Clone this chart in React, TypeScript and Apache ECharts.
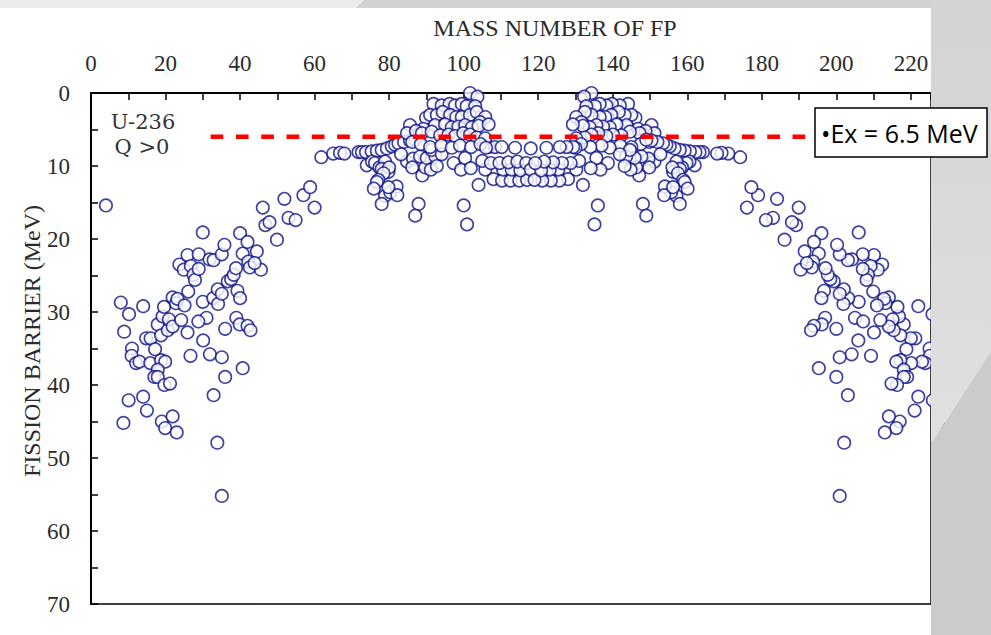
import React, { useEffect, useRef } from "react";
import * as echarts from "echarts";

// Axis ticks (labels shown every 20 / every 10)
const massLabels = [0, 20, 40, 60, 80, 100, 120, 140, 160, 180, 200, 220];
const barrierLabels = [0, 10, 20, 30, 40, 50, 60, 70];

// [mass number, fission barrier MeV] — light-fragment side, outer wing
const wingLight: number[][] = [
  [4.0, 15.4], [8.0, 28.7], [10.2, 30.3], [8.9, 32.7], [11.0, 35.0], [10.9, 36.0], [12.1, 37.0], [13.0, 36.8],
  [14.0, 29.2], [14.8, 33.6], [16.0, 33.6], [17.2, 35.1], [15.9, 37.0], [17.9, 31.7], [18.8, 33.2], [19.2, 30.6],
  [19.6, 29.3], [20.6, 32.5], [20.9, 31.0], [21.9, 32.0], [18.8, 36.6], [19.9, 36.8], [17.9, 37.9], [17.0, 38.9],
  [17.9, 38.9], [19.7, 40.0], [21.2, 39.8], [10.1, 42.1], [14.0, 41.6], [15.0, 43.5], [8.7, 45.2], [19.0, 45.0],
  [21.9, 44.3], [19.9, 45.9], [23.0, 46.5], [21.9, 28.0], [22.8, 28.8], [23.2, 28.2], [25.1, 29.1], [24.2, 31.1],
  [25.9, 32.8], [26.1, 27.2], [23.7, 23.5], [24.9, 24.2], [25.9, 22.2], [26.8, 23.7], [27.5, 24.9], [27.9, 25.6],
  [28.9, 22.1], [28.9, 24.1], [30.0, 19.1], [30.0, 28.6], [31.0, 30.8], [28.8, 31.3], [30.1, 33.9], [26.7, 36.0],
  [31.9, 35.8], [31.8, 22.8], [32.9, 22.9], [32.8, 28.1], [34.0, 26.9], [34.1, 28.9], [35.1, 27.5], [35.1, 22.1],
  [35.8, 20.8], [35.1, 36.2], [36.0, 32.3], [36.0, 38.9], [32.9, 41.4], [33.9, 47.9], [35.1, 55.2], [36.7, 25.8],
  [37.6, 25.5], [38.3, 24.9], [38.9, 24.0], [39.3, 27.1], [40.0, 28.1], [39.0, 30.8], [39.9, 31.7], [40.0, 19.2],
  [40.7, 22.0], [42.0, 20.4], [42.0, 31.9], [42.8, 32.5], [42.2, 23.1], [42.6, 23.9], [40.7, 37.7], [44.5, 21.7],
  [45.6, 24.2], [43.9, 23.3], [46.1, 15.7], [46.8, 18.1], [47.9, 17.7], [49.9, 20.1], [51.9, 14.5], [53.0, 17.1],
  [54.9, 17.4], [57.0, 14.0], [58.8, 12.9], [60.0, 15.7], [61.8, 8.8], [65.0, 8.3], [66.8, 8.2], [68.0, 8.3],
];

// light side, shoulder and valley (A 70 - 118)
const shoulderLight: number[][] = [
  [71.8, 8.1], [72.7, 8.1], [73.8, 8.1], [75.3, 8.0], [76.7, 7.9], [78.0, 7.8], [79.4, 7.6], [80.7, 7.3],
  [81.6, 7.1], [82.5, 6.9], [84.0, 6.7], [85.6, 6.5], [87.0, 6.4],
  [74.0, 9.9], [75.4, 9.4], [76.2, 9.6], [77.4, 10.2], [78.9, 9.4], [78.0, 10.4], [79.8, 10.8], [80.0, 10.2],
  [78.5, 11.0], [77.1, 11.9], [76.7, 12.2], [75.9, 13.1], [78.9, 14.1], [78.0, 15.2], [80.3, 13.6], [82.0, 12.8],
  [82.2, 14.0], [79.8, 12.9],
  [84.8, 9.4], [86.4, 9.0], [86.2, 10.2], [88.3, 8.7], [88.9, 11.3], [89.7, 10.2], [90.1, 8.9], [91.2, 10.5],
  [92.4, 8.7], [92.8, 10.0], [91.4, 7.8], [83.2, 8.4], [94.1, 8.4],
  [87.9, 15.2], [87.0, 16.8], [100.0, 15.4], [100.9, 18.0],
  [97.3, 9.6], [99.3, 10.5], [100.4, 8.9], [101.9, 10.3], [105.8, 10.5], [104.0, 12.6],
  [108.0, 11.8], [110.3, 12.0], [112.6, 12.0], [114.9, 12.0], [117.0, 11.9],
  [110.6, 10.5], [112.9, 10.5], [115.2, 10.6],
  [105.0, 9.3], [107.3, 9.6], [109.6, 9.6], [112.0, 9.5], [114.4, 9.4], [116.8, 9.6],
  [106.6, 7.4], [108.4, 7.4], [110.2, 7.4], [113.8, 7.5],
];

// light-side peak region
const peakLight: number[][] = [
  [101.7, 0.0], [103.7, 0.5],
  [91.9, 1.5], [94.1, 1.7], [96.2, 1.5], [97.7, 1.7], [99.5, 1.5], [100.8, 1.8], [103.1, 1.8],
  [89.9, 3.4], [91.0, 3.0], [92.8, 3.0], [94.4, 2.6], [96.4, 3.0], [98.0, 3.3], [99.5, 3.3], [101.7, 3.0],
  [103.5, 2.6], [105.8, 3.3], [104.4, 4.0],
  [85.6, 4.4], [89.2, 4.9], [92.3, 4.4], [95.0, 4.3], [96.8, 4.7], [98.6, 4.6], [100.4, 4.4], [102.2, 4.7],
  [104.0, 4.5], [106.7, 4.3],
  [84.8, 5.5], [87.2, 5.2], [88.8, 5.5], [91.4, 5.3], [93.7, 5.8], [95.9, 5.7], [97.7, 5.9], [99.9, 5.5],
  [101.7, 5.7], [103.5, 6.1], [105.8, 6.2],
  [86.2, 6.7], [88.5, 7.0], [91.0, 7.4], [94.0, 7.2], [96.8, 7.5], [99.0, 7.2], [102.0, 7.4], [104.5, 7.0], [106.0, 7.5],
];

// symmetric fragments (A = 118)
const symmetric: number[][] = [[118.0, 7.6], [118.0, 10.5]];

// heavy-fragment side
const peakHeavy: number[][] = [
  [134.3, 0.0], [132.3, 0.5],
  [144.1, 1.5], [141.9, 1.7], [139.8, 1.5], [138.3, 1.7], [136.5, 1.5], [135.2, 1.8], [132.9, 1.8],
  [146.1, 3.4], [145.0, 3.0], [143.2, 3.0], [141.6, 2.6], [139.6, 3.0], [138.0, 3.3], [136.5, 3.3], [134.3, 3.0],
  [132.5, 2.6], [130.2, 3.3], [131.6, 4.0],
  [150.4, 4.4], [146.8, 4.9], [143.7, 4.4], [141.0, 4.3], [139.2, 4.7], [137.4, 4.6], [135.6, 4.4], [133.8, 4.7],
  [132.0, 4.5], [129.3, 4.3],
  [151.2, 5.5], [148.8, 5.2], [147.2, 5.5], [144.6, 5.3], [142.3, 5.8], [140.1, 5.7], [138.3, 5.9], [136.1, 5.5],
  [134.3, 5.7], [132.5, 6.1], [130.2, 6.2],
  [149.8, 6.7], [147.5, 7.0], [145.0, 7.4], [142.0, 7.2], [139.2, 7.5], [137.0, 7.2], [134.0, 7.4], [131.5, 7.0], [130.0, 7.5],
];

const shoulderHeavy: number[][] = [
  [164.2, 8.1], [163.3, 8.1], [162.2, 8.1], [160.7, 8.0], [159.3, 7.9], [158.0, 7.8], [156.6, 7.6], [155.3, 7.3],
  [154.4, 7.1], [153.5, 6.9], [152.0, 6.7], [150.4, 6.5], [149.0, 6.4],
  [162.0, 9.9], [160.6, 9.4], [159.8, 9.6], [158.6, 10.2], [157.1, 9.4], [158.0, 10.4], [156.2, 10.8], [156.0, 10.2],
  [157.5, 11.0], [158.9, 11.9], [159.3, 12.2], [160.1, 13.1], [157.1, 14.1], [158.0, 15.2], [155.7, 13.6], [154.0, 12.8],
  [153.8, 14.0], [156.2, 12.9],
  [151.2, 9.4], [149.6, 9.0], [149.8, 10.2], [147.7, 8.7], [147.1, 11.3], [146.3, 10.2], [145.9, 8.9], [144.8, 10.5],
  [143.6, 8.7], [143.2, 10.0], [144.6, 7.8], [152.8, 8.4], [141.9, 8.4],
  [148.1, 15.2], [149.0, 16.8], [136.0, 15.4], [135.1, 18.0],
  [138.7, 9.6], [136.7, 10.5], [135.6, 8.9], [134.1, 10.3], [130.2, 10.5], [132.0, 12.6],
  [128.0, 11.8], [125.7, 12.0], [123.4, 12.0], [121.1, 12.0], [119.0, 11.9],
  [125.4, 10.5], [123.1, 10.5], [120.8, 10.6],
  [131.0, 9.3], [128.7, 9.6], [126.4, 9.6], [124.0, 9.5], [121.6, 9.4], [119.2, 9.6],
  [129.4, 7.4], [127.6, 7.4], [125.8, 7.4], [122.2, 7.5],
];

const wingHeavy: number[][] = [
  [232.0, 15.4], [228.0, 28.7], [225.8, 30.3], [227.1, 32.7], [225.0, 35.0], [225.1, 36.0], [223.9, 37.0], [223.0, 36.8],
  [222.0, 29.2], [221.2, 33.6], [220.0, 33.6], [218.8, 35.1], [220.1, 37.0], [218.1, 31.7], [217.2, 33.2], [216.8, 30.6],
  [216.4, 29.3], [215.4, 32.5], [215.1, 31.0], [214.1, 32.0], [217.2, 36.6], [216.1, 36.8], [218.1, 37.9], [219.0, 38.9],
  [218.1, 38.9], [216.3, 40.0], [214.8, 39.8], [225.9, 42.1], [222.0, 41.6], [221.0, 43.5], [227.3, 45.2], [217.0, 45.0],
  [214.1, 44.3], [216.1, 45.9], [213.0, 46.5], [214.1, 28.0], [213.2, 28.8], [212.8, 28.2], [210.9, 29.1], [211.8, 31.1],
  [210.1, 32.8], [209.9, 27.2], [212.3, 23.5], [211.1, 24.2], [210.1, 22.2], [209.2, 23.7], [208.5, 24.9], [208.1, 25.6],
  [207.1, 22.1], [207.1, 24.1], [206.0, 19.1], [206.0, 28.6], [205.0, 30.8], [207.2, 31.3], [205.9, 33.9], [209.3, 36.0],
  [204.1, 35.8], [204.2, 22.8], [203.1, 22.9], [203.2, 28.1], [202.0, 26.9], [201.9, 28.9], [200.9, 27.5], [200.9, 22.1],
  [200.2, 20.8], [200.9, 36.2], [200.0, 32.3], [200.0, 38.9], [203.1, 41.4], [202.1, 47.9], [200.9, 55.2], [199.3, 25.8],
  [198.4, 25.5], [197.7, 24.9], [197.1, 24.0], [196.7, 27.1], [196.0, 28.1], [197.0, 30.8], [196.1, 31.7], [196.0, 19.2],
  [195.3, 22.0], [194.0, 20.4], [194.0, 31.9], [193.2, 32.5], [193.8, 23.1], [193.4, 23.9], [195.3, 37.7], [191.5, 21.7],
  [190.4, 24.2], [192.1, 23.3], [189.9, 15.7], [189.2, 18.1], [188.1, 17.7], [186.1, 20.1], [184.1, 14.5], [183.0, 17.1],
  [181.1, 17.4], [179.0, 14.0], [177.2, 12.9], [176.0, 15.7], [174.2, 8.8], [171.0, 8.3], [169.2, 8.2], [168.0, 8.3],
];

// Excitation energy reference line
const exLevel = 6.0;
const exFrom = 32.1;
const exTo = 193.0;

export default function App() {
  const ref = useRef<HTMLDivElement>(null);

  useEffect(() => {
    if (!ref.current) return;
    const chart = echarts.init(ref.current, undefined, { renderer: "svg" });
    const points = [
      ...wingLight,
      ...shoulderLight,
      ...peakLight,
      ...symmetric,
      ...peakHeavy,
      ...shoulderHeavy,
      ...wingHeavy,
    ];
    const serif = '"Liberation Serif", "Times New Roman", serif';
    const labelColor = "#2b2b2b";

    chart.setOption({
      animation: false,
      backgroundColor: "#ffffff",
      grid: { left: 91, top: 93, right: 60, bottom: 31, containLabel: false },
      xAxis: [
        {
          type: "value",
          position: "top",
          min: 0,
          max: 225.4,
          interval: 10,
          axisLine: { show: true, onZero: false, lineStyle: { color: "#000", width: 2 } },
          axisTick: { show: true, inside: true, length: 7, lineStyle: { color: "#000", width: 1.5 } },
          axisLabel: {
            show: true,
            margin: 18,
            fontFamily: serif,
            fontSize: 23,
            color: labelColor,
            formatter: (v: number) => (massLabels.includes(Math.round(v * 10) / 10) ? String(v) : ""),
          },
          splitLine: { show: false },
        },
        {
          type: "value",
          position: "bottom",
          min: 0,
          max: 225.4,
          axisLine: { show: true, onZero: false, lineStyle: { color: "#000", width: 1.5 } },
          axisTick: { show: false },
          axisLabel: { show: false },
          splitLine: { show: false },
        },
      ],
      yAxis: [
        {
          type: "value",
          position: "left",
          inverse: true,
          min: 0,
          max: 70,
          interval: 5,
          axisLine: { show: true, onZero: false, lineStyle: { color: "#000", width: 2 } },
          axisTick: { show: true, inside: true, length: 7, lineStyle: { color: "#000", width: 1.5 } },
          axisLabel: {
            show: true,
            margin: 21,
            fontFamily: serif,
            fontSize: 23,
            color: labelColor,
            formatter: (v: number) => (barrierLabels.includes(v) ? String(v) : ""),
          },
          splitLine: { show: false },
        },
        {
          type: "value",
          position: "right",
          inverse: true,
          min: 0,
          max: 70,
          axisLine: { show: true, onZero: false, lineStyle: { color: "#000", width: 1.5 } },
          axisTick: { show: false },
          axisLabel: { show: false },
          splitLine: { show: false },
        },
      ],
      series: [
        {
          type: "scatter",
          xAxisIndex: 0,
          yAxisIndex: 0,
          data: points,
          symbol: "circle",
          symbolSize: 12.5,
          clip: false,
          z: 3,
          itemStyle: { color: "#ffffff", borderColor: "#0c1287", borderWidth: 1.6 },
          emphasis: { disabled: true },
        },
        {
          type: "line",
          xAxisIndex: 0,
          yAxisIndex: 0,
          data: [
            [exFrom, exLevel],
            [exTo, exLevel],
          ],
          symbol: "none",
          z: 4,
          lineStyle: { color: "#ff0000", width: 4.5, type: [12.7, 12.6] },
          emphasis: { disabled: true },
        },
      ],
      graphic: [
        // slide background decorations
        { type: "rect", z: 100, silent: true, shape: { x: 0, y: 0, width: 991, height: 8 }, style: { fill: "#d2d2d2" } },
        {
          type: "polygon",
          z: 100,
          silent: true,
          shape: { points: [[0, 0], [364, 0], [356, 8], [0, 8]] },
          style: { fill: "#ebebeb" },
        },
        {
          type: "polygon",
          z: 100,
          silent: true,
          shape: { points: [[931, 0], [991, 0], [991, 351], [931, 444]] },
          style: {
            fill: new echarts.graphic.LinearGradient(0, 0, 0, 1, [
              { offset: 0, color: "#d3d3d3" },
              { offset: 1, color: "#e0e0e0" },
            ]),
          },
        },
        {
          type: "polygon",
          z: 100,
          silent: true,
          shape: { points: [[931, 444], [991, 351], [991, 635], [931, 635]] },
          style: { fill: "#cbcbcb" },
        },
        // axis titles
        {
          type: "text",
          z: 50,
          x: 555,
          y: 28,
          style: {
            text: "MASS NUMBER OF FP",
            align: "center",
            verticalAlign: "middle",
            fontFamily: serif,
            fontSize: 24,
            fill: labelColor,
          },
        },
        {
          type: "text",
          z: 50,
          x: 32,
          y: 341,
          rotation: Math.PI / 2,
          style: {
            text: "FISSION BARRIER (MeV)",
            align: "center",
            verticalAlign: "middle",
            fontFamily: serif,
            fontSize: 24,
            fill: labelColor,
          },
        },
        // annotations
        {
          type: "text",
          z: 50,
          x: 143,
          y: 122,
          style: {
            text: "U-236",
            align: "center",
            verticalAlign: "middle",
            fontFamily: '"DejaVu Serif", serif',
            fontSize: 21,
            fill: "#333",
          },
        },
        {
          type: "text",
          z: 50,
          x: 142,
          y: 147,
          style: {
            text: "Q >0",
            align: "center",
            verticalAlign: "middle",
            fontFamily: '"DejaVu Serif", serif',
            fontSize: 21,
            fill: "#333",
          },
        },
        {
          type: "rect",
          z: 110,
          shape: { x: 815, y: 108, width: 172, height: 49 },
          style: { fill: "#ffffff", stroke: "#000000", lineWidth: 1.5 },
        },
        {
          type: "text",
          z: 111,
          x: 821,
          y: 133,
          style: {
            text: "•Ex = 6.5 MeV",
            align: "left",
            verticalAlign: "middle",
            fontFamily: '"Open Sans", sans-serif',
            fontSize: 25,
            fill: "#000",
          },
        },
      ],
    });

    return () => {
      chart.dispose();
    };
  }, []);

  return (
    <div
      ref={ref}
      style={{ position: "fixed", left: 0, top: 0, width: 991, height: 635, background: "#fff" }}
    />
  );
}
